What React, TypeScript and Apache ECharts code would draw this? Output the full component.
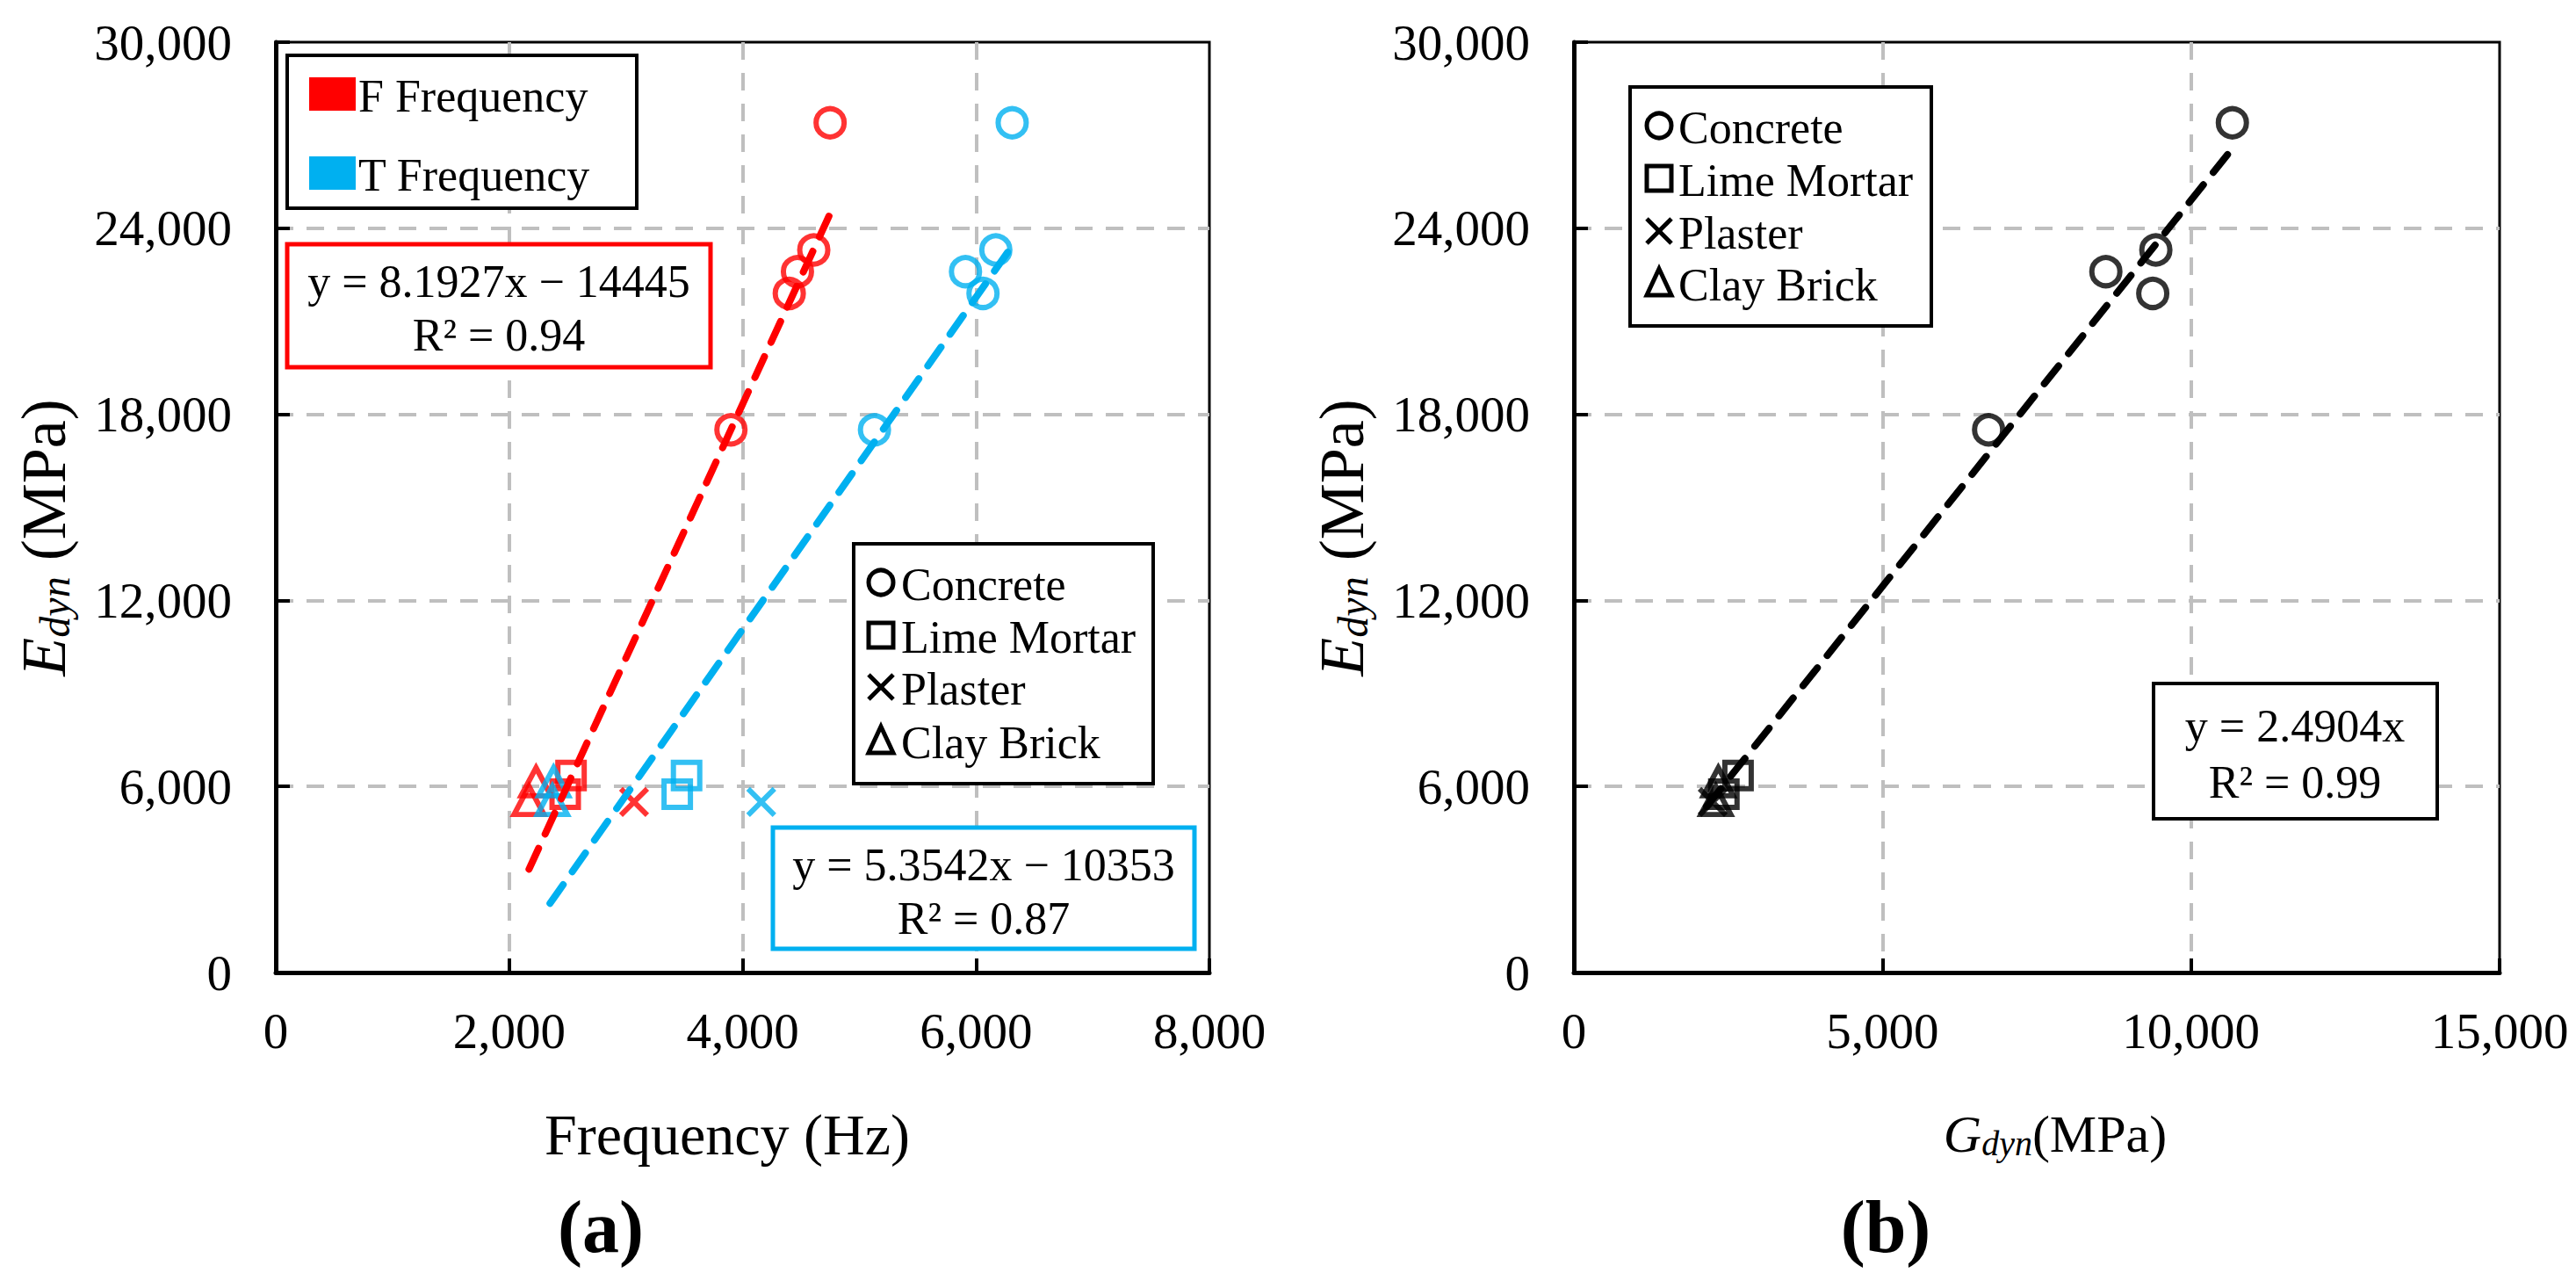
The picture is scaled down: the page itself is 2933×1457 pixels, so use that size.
import React, { useEffect, useRef } from "react";
import * as echarts from "echarts";

// ---------- data ----------
const E_CONCRETE = [17500, 21900, 22600, 23300, 27400];
const F_CONCRETE = [3900, 4400, 4470, 4610, 4750];
const T_CONCRETE = [5130, 6060, 5910, 6170, 6310];
const G_CONCRETE = [6720, 9380, 8620, 9430, 10670];

const E_LIME = [5750, 6350];
const F_LIME = [2480, 2530];
const T_LIME = [3440, 3520];
const G_LIME = [2430, 2660];

const E_PLASTER = [5500];
const F_PLASTER = [3070];
const T_PLASTER = [4160];
const G_PLASTER = [2250];

const E_CLAY = [5550, 6150];
const F_CLAY = [2170, 2230];
const T_CLAY = [2370, 2380];
const G_CLAY = [2300, 2340];

// trend lines: slope, intercept, x range
const F_FIT = { slope: 8.1927, intercept: -14445, from: 2170, to: 4790 };
const T_FIT = { slope: 5.3542, intercept: -10353, from: 2350, to: 6330 };
const G_FIT = { slope: 2.4904, intercept: 0, from: 2150, to: 10660 };

const X_TICKS_A = { min: 0, max: 8000, interval: 2000 };
const X_TICKS_B = { min: 0, max: 15000, interval: 5000 };
const Y_TICKS = { min: 0, max: 30000, interval: 6000 };

const MATERIALS = ["Concrete", "Lime Mortar", "Plaster", "Clay Brick"];

// ---------- style ----------
const FONT = "'Liberation Serif', 'Times New Roman', Times, serif";
const RED = "#FF0000";
const BLUE = "#00B0F0";
const BLACK = "#000000";
const GRID_GRAY = "#BFBFBF";
const X_PATH = "path://M0,0L10,10M10,0L0,10";

const fmt = (v: number) => v.toLocaleString("en-US");

function pts(xs: number[], ys: number[]) {
  return xs.map((x, i) => [x, ys[i]]);
}

function scatter(name: string, idx: number, xs: number[], ys: number[], symbol: string, size: any, color: string) {
  return {
    name,
    type: "scatter",
    xAxisIndex: idx,
    yAxisIndex: idx,
    data: pts(xs, ys),
    symbol,
    symbolSize: size,
    itemStyle: { color: "rgba(0,0,0,0)", borderColor: color, borderWidth: 6 },
    z: 3,
  };
}

function fitLine(name: string, idx: number, fit: any, color: string) {
  return {
    name,
    type: "line",
    xAxisIndex: idx,
    yAxisIndex: idx,
    data: [
      [fit.from, fit.slope * fit.from + fit.intercept],
      [fit.to, fit.slope * fit.to + fit.intercept],
    ],
    symbol: "none",
    lineStyle: { color, width: 8, type: [26, 18], cap: "round" },
    z: 4,
  };
}

function xAxis(idx: number, t: any) {
  return {
    type: "value",
    gridIndex: idx,
    min: t.min,
    max: t.max,
    interval: t.interval,
    axisLine: { show: true, onZero: false, lineStyle: { color: BLACK, width: 5 } },
    axisTick: { show: true, inside: true, length: 16, lineStyle: { color: BLACK, width: 4 } },
    axisLabel: { color: BLACK, fontFamily: FONT, fontSize: 57, margin: 38, formatter: fmt },
    splitLine: {
      show: true,
      showMinLine: false,
      showMaxLine: false,
      lineStyle: { color: GRID_GRAY, width: 4, type: [20, 15] },
    },
  };
}

function yAxis(idx: number) {
  return {
    type: "value",
    gridIndex: idx,
    min: Y_TICKS.min,
    max: Y_TICKS.max,
    interval: Y_TICKS.interval,
    axisLine: { show: true, onZero: false, lineStyle: { color: BLACK, width: 5 } },
    axisTick: { show: true, inside: true, length: 16, lineStyle: { color: BLACK, width: 4 } },
    axisLabel: { color: BLACK, fontFamily: FONT, fontSize: 57, margin: 50, formatter: fmt },
    splitLine: {
      show: true,
      showMinLine: false,
      showMaxLine: false,
      lineStyle: { color: GRID_GRAY, width: 4, type: [20, 15] },
    },
  };
}

const txt = (x: number, y: number, text: string, size: number, extra: any = {}) => ({
  type: "text",
  x,
  y,
  z: 20,
  style: {
    text,
    fill: BLACK,
    fontFamily: FONT,
    fontSize: size,
    fontWeight: extra.weight || "normal",
    align: extra.align || "left",
    verticalAlign: "middle",
  },
});

const box = (x: number, y: number, w: number, h: number, color: string, lw: number) => ({
  type: "rect",
  z: 15,
  shape: { x, y, width: w, height: h },
  style: { fill: "#fff", stroke: color, lineWidth: lw },
});

function markerGraphic(kind: number, cx: number, cy: number, color: string) {
  const s = 14;
  const st = { fill: "none", stroke: color, lineWidth: 5 };
  if (kind === 0) return [{ type: "circle", z: 16, shape: { cx, cy, r: s }, style: st }];
  if (kind === 1)
    return [{ type: "rect", z: 16, shape: { x: cx - s, y: cy - s, width: 2 * s, height: 2 * s }, style: st }];
  if (kind === 2)
    return [
      { type: "line", z: 16, shape: { x1: cx - s, y1: cy - s, x2: cx + s, y2: cy + s }, style: st },
      { type: "line", z: 16, shape: { x1: cx + s, y1: cy - s, x2: cx - s, y2: cy + s }, style: st },
    ];
  return [
    {
      type: "polygon",
      z: 16,
      shape: { points: [[cx, cy - s - 2], [cx + s, cy + s], [cx - s, cy + s]] },
      style: st,
    },
  ];
}

function materialLegend(x: number, y: number, w: number, h: number, mx: number, tx: number, rows: number[]) {
  const els: any[] = [box(x, y, w, h, BLACK, 4)];
  MATERIALS.forEach((m, i) => {
    els.push(...markerGraphic(i, mx, rows[i], BLACK));
    els.push(txt(tx, rows[i] + 2, m, 52));
  });
  return els;
}

function richStyle(size: number, subSize: number) {
  return {
    e: { fontFamily: FONT, fontSize: size, fontStyle: "italic", lineHeight: size, fill: BLACK, color: BLACK },
    s: {
      fontFamily: FONT,
      fontSize: subSize,
      fontStyle: "italic",
      lineHeight: Math.round(subSize * 0.45),
      verticalAlign: "bottom",
      fill: BLACK,
      color: BLACK,
    },
    n: { fontFamily: FONT, fontSize: size, lineHeight: size, fill: BLACK, color: BLACK },
  };
}

function richText(x: number, y: number, text: string, size: number, subSize: number, rotation = 0) {
  return {
    type: "text",
    x,
    y,
    rotation,
    z: 20,
    style: {
      text,
      rich: richStyle(size, subSize),
      align: "center",
      verticalAlign: "middle",
      fill: BLACK,
      fontFamily: FONT,
      fontSize: size,
    },
  };
}

function buildOption() {
  const graphic: any[] = [
    // axis titles
    richText(50, 612, "{e|E}{s|dyn}{n| (MPa)}", 72, 48, Math.PI / 2),
    richText(1528, 612, "{e|E}{s|dyn}{n| (MPa)}", 72, 48, Math.PI / 2),
    txt(828, 1291, "Frequency (Hz)", 66, { align: "center" }),
    richText(2340, 1291, "{e|G}{s|dyn}{n|(MPa)}", 60, 40),
    txt(684, 1396, "(a)", 84, { align: "center", weight: "bold" }),
    txt(2147, 1396, "(b)", 84, { align: "center", weight: "bold" }),

    // frequency legend
    box(327, 63, 398, 174, BLACK, 4),
    { type: "rect", z: 16, shape: { x: 352, y: 88, width: 53, height: 38 }, style: { fill: RED } },
    txt(408, 109, "F Frequency", 52),
    { type: "rect", z: 16, shape: { x: 352, y: 178, width: 53, height: 38 }, style: { fill: BLUE } },
    txt(408, 199, "T Frequency", 52),

    // equation boxes
    box(327, 278, 482, 140, RED, 5),
    txt(568, 320, "y = 8.1927x \u2212 14445", 52, { align: "center" }),
    txt(568, 381, "R\u00B2 = 0.94", 52, { align: "center" }),
    box(880, 942, 480, 138, BLUE, 5),
    txt(1120, 984, "y = 5.3542x \u2212 10353", 52, { align: "center" }),
    txt(1120, 1045, "R\u00B2 = 0.87", 52, { align: "center" }),
    box(2452, 778, 323, 154, BLACK, 4),
    txt(2613, 826, "y = 2.4904x", 52, { align: "center" }),
    txt(2613, 890, "R\u00B2 = 0.99", 52, { align: "center" }),

    ...materialLegend(972, 619, 341, 273, 1003, 1026, [663, 723, 782, 843]),
    ...materialLegend(1856, 99, 343, 272, 1889, 1911, [143, 203, 263, 322]),
  ];

  return {
    animation: false,
    backgroundColor: "#ffffff",
    grid: [
      { left: 314, top: 48, width: 1063, height: 1059, show: true, borderColor: BLACK, borderWidth: 3, backgroundColor: "transparent", containLabel: false, outerBoundsMode: "none" },
      { left: 1792, top: 48, width: 1054, height: 1059, show: true, borderColor: BLACK, borderWidth: 3, backgroundColor: "transparent", containLabel: false, outerBoundsMode: "none" },
    ],
    xAxis: [xAxis(0, X_TICKS_A), xAxis(1, X_TICKS_B)],
    yAxis: [yAxis(0), yAxis(1)],
    series: [
      fitLine("F fit", 0, F_FIT, RED),
      fitLine("T fit", 0, T_FIT, BLUE),
      scatter("F Concrete", 0, F_CONCRETE, E_CONCRETE, "circle", 32, RED),
      scatter("F Lime Mortar", 0, F_LIME, E_LIME, "rect", 30, RED),
      scatter("F Plaster", 0, F_PLASTER, E_PLASTER, X_PATH, 30, RED),
      scatter("F Clay Brick", 0, F_CLAY, E_CLAY, "triangle", [34, 32], RED),
      scatter("T Concrete", 0, T_CONCRETE, E_CONCRETE, "circle", 32, BLUE),
      scatter("T Lime Mortar", 0, T_LIME, E_LIME, "rect", 30, BLUE),
      scatter("T Plaster", 0, T_PLASTER, E_PLASTER, X_PATH, 30, BLUE),
      scatter("T Clay Brick", 0, T_CLAY, E_CLAY, "triangle", [34, 32], BLUE),
      fitLine("G fit", 1, G_FIT, BLACK),
      scatter("G Concrete", 1, G_CONCRETE, E_CONCRETE, "circle", 32, BLACK),
      scatter("G Lime Mortar", 1, G_LIME, E_LIME, "rect", 30, BLACK),
      scatter("G Plaster", 1, G_PLASTER, E_PLASTER, X_PATH, 30, BLACK),
      scatter("G Clay Brick", 1, G_CLAY, E_CLAY, "triangle", [34, 32], BLACK),
    ],
    graphic,
  };
}

export default function App() {
  const ref = useRef<HTMLDivElement>(null);
  useEffect(() => {
    if (!ref.current) return;
    const chart = echarts.init(ref.current, undefined, { renderer: "svg" });
    chart.setOption(buildOption() as any);
    return () => chart.dispose();
  }, []);
  return (
    <div
      ref={ref}
      style={{ position: "absolute", left: 0, top: 0, width: 2933, height: 1457, background: "#fff" }}
    />
  );
}
